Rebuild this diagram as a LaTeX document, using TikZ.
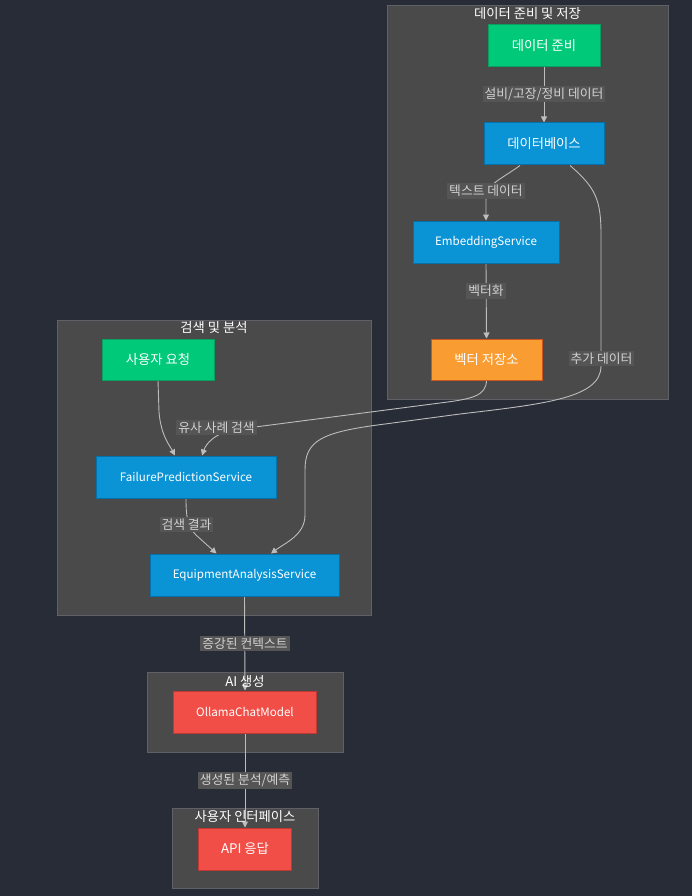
\documentclass[tikz,border=0pt]{standalone}
\usepackage{fontspec}
\setmainfont{Noto Sans CJK KR}
\usetikzlibrary{arrows.meta}
\pgfdeclarelayer{bg}
\pgfdeclarelayer{edges}
\pgfsetlayers{bg,edges,main}

\definecolor{canvas}{HTML}{282C37}
\definecolor{groupfill}{HTML}{4A4A4A}
\definecolor{groupline}{HTML}{5E6267}
\definecolor{lblfill}{HTML}{555555}
\definecolor{lbltext}{HTML}{D2D2D2}
\definecolor{wire}{HTML}{BDBDBD}
\definecolor{gfill}{HTML}{00C97A}\definecolor{gline}{HTML}{0A9E5F}
\definecolor{bfill}{HTML}{0A94D6}\definecolor{bline}{HTML}{0670A8}
\definecolor{ofill}{HTML}{F99C32}\definecolor{oline}{HTML}{CC5522}
\definecolor{rfill}{HTML}{F04E46}\definecolor{rline}{HTML}{C03832}

\tikzset{
  box/.style={draw, line width=1pt, minimum height=42pt, inner sep=0pt,
    text=white, font=\fontsize{13.3}{15}\selectfont},
  latin/.style={font=\fontsize{11.6}{14}\selectfont},
  greenbox/.style={box, fill=gfill, draw=gline},
  bluebox/.style={box, fill=bfill, draw=bline},
  orangebox/.style={box, fill=ofill, draw=oline},
  redbox/.style={box, fill=rfill, draw=rline},
  group/.style={fill=groupfill, draw=groupline, line width=1pt},
  grouptitle/.style={text=white, font=\fontsize{13.3}{15}\selectfont, inner sep=0pt},
  elabel/.style={fill=lblfill, text=lbltext, inner xsep=2pt, inner ysep=2pt,
    font=\fontsize{12.8}{15}\selectfont},
  flow/.style={draw=wire, line width=0.9pt, -{Triangle[length=6pt,width=6pt]}},
}

\begin{document}
\begin{tikzpicture}[x=1pt,y=-1pt]
\useasboundingbox (0,0) rectangle (692,896);

\begin{pgfonlayer}{bg}
  \fill[canvas] (0,0) rectangle (692,896);
  % groups
  \draw[group] (387,6) rectangle (668,399);
  \draw[group] (57,320) rectangle (371,615);
  \draw[group] (147,672) rectangle (343,752);
  \draw[group] (172,808) rectangle (318,888);
\end{pgfonlayer}

% group titles
\node[grouptitle] (t1) at (527.5,14) {데이터 준비 및 저장};
\node[grouptitle] (t2) at (214,328) {검색 및 분석};
\node[grouptitle] (t3) at (245,681) {AI 생성};
\node[grouptitle] (t4) at (245,817) {사용자 인터페이스};

% process nodes
\node[greenbox, minimum width=112pt] (prep) at (544,46) {데이터 준비};
\node[bluebox, minimum width=120pt] (db) at (544,144) {데이터베이스};
\node[bluebox, latin, minimum width=146pt] (emb) at (486,242) {EmbeddingService};
\node[orangebox, minimum width=111pt, minimum height=41pt] (vec) at (486.5,359.5) {벡터 저장소};
\node[greenbox, minimum width=112pt, minimum height=41pt] (req) at (158,359.5) {사용자 요청};
\node[bluebox, latin, minimum width=180pt] (fps) at (186,477) {FailurePredictionService};
\node[bluebox, latin, minimum width=189pt] (eas) at (244.5,575) {EquipmentAnalysisService};
\node[redbox, latin, minimum width=143pt] (llm) at (245,712) {OllamaChatModel};
\node[redbox, minimum width=93pt] (api) at (245,849) {API 응답};

% edge labels
\node[elabel] (l1) at (544,94) {설비/고장/정비 데이터};
\node[elabel] (l2) at (486,191) {텍스트 데이터};
\node[elabel] (l3) at (486,291) {벡터화};
\node[elabel] (l4) at (601.5,358.5) {추가 데이터};
\node[elabel] (l5) at (216.5,427.5) {유사 사례 검색};
\node[elabel] (l6) at (186.5,524.5) {검색 결과};
\node[elabel] (l7) at (245,643.5) {증강된 컨텍스트};
\node[elabel] (l8) at (245,780.5) {생성된 분석/예측};

\begin{pgfonlayer}{edges}
  \draw[flow] (prep.south) -- (db.north);
  \draw[flow] ([xshift=-24pt]db.south) .. controls (500,180) and (486,184) .. (486,200) -- (emb.north);
  \draw[flow] (emb.south) -- (vec.north);
  \draw[flow] ([xshift=26pt]db.south) .. controls (596,188) and (601,200) .. (601,235)
      -- (601,366) .. controls (601,398) and (545,404) .. (460,414)
      -- (385,424) .. controls (322,432) and (305,440) .. (305,470)
      -- (305,515) .. controls (305,535) and (285,543) .. ([xshift=26.5pt]eas.north);
  \draw[flow] (vec.south) .. controls (486,396) and (472,399) .. (440,403)
      -- (232,430) .. controls (214,434) and (206,444) .. ([xshift=16pt]fps.north);
  \draw[flow] (req.south) -- (159,412) .. controls (161,436) and (170,446) .. ([xshift=-11pt]fps.north);
  \draw[flow] (fps.south) .. controls (186,515) and (187,526) .. (196,535) -- ([xshift=-28pt]eas.north);
  \draw[flow] (eas.south) -- (llm.north);
  \draw[flow] (llm.south) -- (api.north);
\end{pgfonlayer}
\end{tikzpicture}
\end{document}
